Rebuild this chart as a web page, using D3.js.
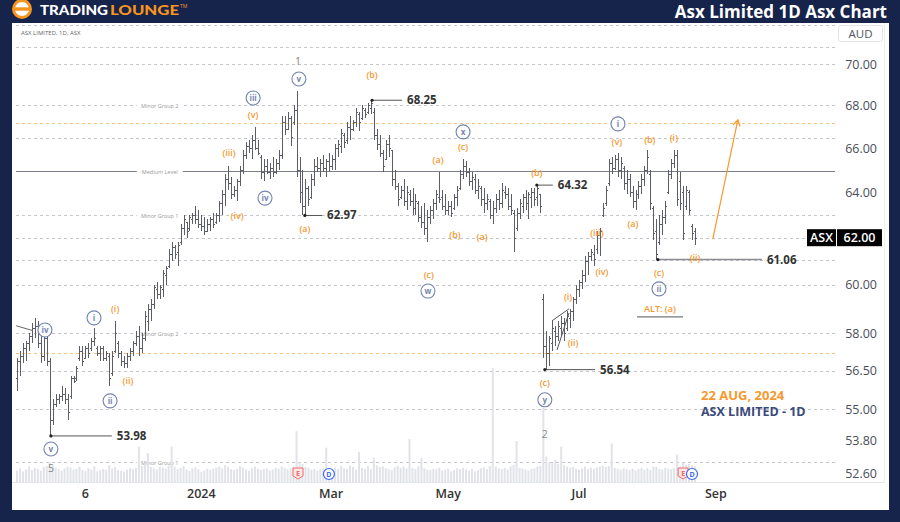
<!DOCTYPE html>
<html>
<head>
<meta charset="utf-8">
<script src="https://cdn.jsdelivr.net/npm/d3@7"></script>
<style>
  body { margin: 0; background: #16234b; }
  svg { display: block; font-family: "Open Sans", sans-serif; }
</style>
</head>
<body>
<div class="chart"></div>
<script>
//ASX Limited daily bars (late Sep 2023 -> 22 Aug 2024)
const opens = [
  56.2,56.9,57.1,57.4,57.6,57.9,58.2,58.3,57.6,57.1,
  57.8,56.9,54.6,55.2,55.4,55.5,55.6,55.4,55.5,56.2,
  56.2,57.0,57.3,57.0,57.4,57.4,57.7,57.4,57.2,57.4,
  57.0,57.1,56.4,57.3,57.6,57.2,56.9,56.8,57.1,57.3,
  57.6,57.9,57.4,57.8,58.5,59.0,59.2,59.8,59.6,59.8,
  60.4,60.8,61.3,61.6,61.4,61.8,62.4,62.7,62.4,62.8,
  63.0,62.8,62.6,62.5,62.3,62.6,62.8,62.7,63.0,63.5,
  63.9,64.6,64.4,63.9,64.1,64.5,65.0,65.7,66.1,66.0,
  66.4,66.0,65.6,64.9,65.2,64.9,65.1,64.9,65.3,65.7,
  67.2,66.9,67.4,67.2,67.8,65.0,64.0,63.4,64.2,63.8,
  64.6,65.2,65.1,65.3,65.1,65.4,65.2,65.5,66.0,66.1,
  66.6,66.4,67.0,66.9,67.2,67.6,67.4,67.8,67.7,67.9,
  67.7,66.6,66.2,65.8,65.5,66.2,65.9,64.6,64.3,63.8,
  64.1,63.6,63.9,63.6,63.3,63.5,62.9,62.7,62.4,62.9,
  63.2,63.5,63.8,63.8,63.4,63.2,63.4,63.3,63.8,64.2,
  64.8,65.2,64.9,64.5,64.6,64.1,64.2,63.7,63.5,63.6,
  63.0,63.3,63.7,63.5,64.0,63.9,63.4,63.1,62.4,63.1,
  63.4,63.8,63.5,63.8,64.0,63.8,63.9,59.4,57.5,57.2,
  57.6,58.1,57.9,58.2,58.4,58.2,58.6,58.9,59.4,59.8,
  60.1,60.4,61.0,61.2,61.3,61.5,62.1,63.0,63.5,64.4,
  65.3,65.1,65.5,65.0,65.1,64.4,64.6,64.0,63.6,63.9,
  64.3,64.6,65.0,64.8,63.3,62.3,61.8,62.6,62.9,64.0,
  64.8,65.3,65.7,64.5,64.0,63.4,64.0,62.5,62.3
];
const highs = [
  57.0,57.3,57.6,57.7,58.0,58.4,58.6,58.5,58.1,58.2,
  57.9,57.0,55.4,55.6,55.6,55.9,55.8,55.6,56.3,56.3,
  56.7,57.5,57.5,57.5,57.6,57.8,58.2,57.5,57.5,57.5,
  57.3,57.2,57.3,58.5,57.7,57.3,57.1,57.2,57.4,57.7,
  58.1,58.3,58.0,58.9,59.2,59.4,60.0,60.1,60.0,60.6,
  60.8,61.5,61.8,61.7,61.8,62.6,63.0,62.7,63.0,63.1,
  63.4,63.2,63.0,62.9,62.8,62.9,63.1,63.1,63.6,64.1,
  64.8,65.2,64.7,64.3,64.6,65.2,65.9,66.3,66.4,66.6,
  67.0,66.4,65.7,65.5,65.5,65.3,65.6,65.5,65.9,67.5,
  67.5,67.7,67.5,68.0,68.7,65.6,65.0,64.6,64.3,64.8,
  65.5,65.6,65.5,65.7,65.5,65.8,65.7,66.2,66.4,66.9,
  66.7,67.2,67.5,67.3,67.9,67.7,68.0,67.9,68.1,68.25,
  67.9,66.9,66.6,65.9,66.4,66.6,65.9,65.0,64.4,64.3,
  64.6,64.3,64.1,64.2,63.9,63.6,63.4,63.5,63.2,63.4,
  63.7,64.1,64.9,64.1,63.9,63.6,63.6,63.9,64.3,65.0,
  65.5,65.4,65.1,64.9,64.8,64.6,64.3,64.2,63.9,63.7,
  63.6,63.9,64.1,64.4,64.3,64.2,63.9,63.2,63.3,63.7,
  63.9,64.1,64.0,64.2,64.2,64.32,63.9,59.6,58.1,57.9,
  58.5,58.3,58.5,58.7,58.6,58.9,59.0,59.5,60.0,60.2,
  60.6,61.2,61.4,61.5,61.7,62.3,62.4,63.5,64.3,65.5,
  65.6,65.7,65.8,65.6,65.2,65.0,64.8,64.3,64.1,64.5,
  64.8,65.2,65.9,65.0,63.4,62.8,63.0,63.2,63.6,65.0,
  65.5,65.9,65.9,64.9,64.3,64.3,64.1,62.6,62.4
];
const lows = [
  55.7,56.3,56.8,56.9,57.3,57.6,57.8,57.4,56.8,56.9,
  56.7,53.98,54.4,55.1,55.2,55.3,55.2,54.6,55.4,56.0,
  56.1,56.9,56.7,57.0,57.0,57.3,57.5,57.1,56.9,56.9,
  56.9,55.9,56.3,57.2,57.0,56.7,56.6,56.6,56.9,57.1,
  57.5,57.1,57.2,57.7,58.1,58.5,59.0,59.4,59.4,59.5,
  60.0,60.7,61.0,61.1,60.8,61.7,62.1,62.0,62.3,62.6,
  62.6,62.4,62.3,62.1,62.3,62.3,62.4,62.6,62.7,63.0,
  63.4,64.1,63.7,63.8,63.6,64.3,64.8,65.5,65.8,65.5,
  65.9,65.7,64.6,64.5,64.8,64.6,64.7,64.8,65.0,65.5,
  66.6,66.9,66.1,67.1,64.7,63.5,63.0,62.97,63.4,63.7,
  64.3,64.9,64.7,64.9,64.7,64.9,65.0,65.0,65.6,65.8,
  66.0,66.2,66.4,66.8,67.0,66.8,67.3,67.4,67.6,67.6,
  66.4,65.9,65.6,64.9,65.5,65.6,64.3,64.1,63.4,63.7,
  63.4,63.2,63.4,63.0,63.0,62.7,62.4,62.1,61.8,62.6,
  62.8,63.2,63.5,63.2,63.0,63.0,62.9,63.2,63.4,64.1,
  64.6,64.7,64.3,64.1,63.9,63.7,63.4,63.1,63.2,62.8,
  62.6,63.1,63.2,63.3,63.7,63.2,63.0,61.4,62.3,62.8,
  63.1,63.2,62.8,63.3,63.4,63.4,63.1,57.0,56.54,56.7,
  57.3,57.5,57.7,57.9,57.7,58.1,58.2,58.5,59.2,59.5,
  59.8,60.1,60.4,61.0,60.8,61.3,61.2,62.9,63.4,64.3,
  64.8,65.0,64.7,64.6,64.1,63.9,63.8,63.3,63.2,63.7,
  63.9,64.3,64.8,63.2,61.9,61.06,61.7,62.1,62.6,63.9,
  64.6,65.1,63.4,63.2,61.9,63.2,63.0,61.9,61.7
];
const closes = [
  56.9,57.1,57.4,57.6,57.9,58.2,58.3,57.6,57.1,57.8,
  56.9,54.6,55.2,55.4,55.5,55.6,55.4,54.9,56.2,56.1,
  56.6,57.3,56.9,57.4,57.2,57.7,57.8,57.2,57.4,57.0,
  57.2,56.2,57.1,58.0,57.2,56.9,56.8,57.1,57.3,57.6,
  57.9,57.4,57.8,58.7,59.0,59.2,59.9,59.6,59.9,60.5,
  60.7,61.3,61.6,61.3,61.7,62.4,62.8,62.3,62.9,63.0,
  62.8,62.6,62.5,62.3,62.6,62.8,62.6,63.0,63.5,63.9,
  64.6,64.4,63.9,64.1,64.5,65.0,65.7,66.1,66.0,66.4,
  66.0,65.8,64.9,65.2,64.9,65.1,64.9,65.3,65.7,67.2,
  66.9,67.4,66.5,67.8,65.0,64.0,63.4,64.2,63.7,64.6,
  65.2,65.1,65.3,65.1,65.4,65.2,65.5,66.0,66.2,66.7,
  66.3,67.0,66.9,67.2,67.7,67.2,67.9,67.6,68.0,68.1,
  66.6,66.2,65.8,65.2,66.2,66.0,64.6,64.3,63.7,64.1,
  63.6,64.0,63.6,63.3,63.6,62.9,62.7,62.4,62.9,63.2,
  63.5,63.9,63.7,63.4,63.2,63.4,63.1,63.8,64.1,64.8,
  65.2,64.9,64.5,64.7,64.1,64.3,63.7,63.5,63.7,63.0,
  63.3,63.7,63.5,64.1,63.9,63.4,63.2,62.0,63.1,63.5,
  63.8,63.5,63.9,64.0,63.7,64.2,63.4,57.5,57.2,57.8,
  58.2,57.9,58.3,58.4,58.0,58.7,58.9,59.4,59.8,60.1,
  60.4,61.0,61.2,61.4,61.1,62.1,62.3,63.3,64.1,65.3,
  65.1,65.5,65.0,65.3,64.4,64.6,64.0,63.6,63.9,64.3,
  64.6,65.0,65.6,63.5,62.2,61.3,62.6,62.9,63.4,64.8,
  65.3,65.7,63.7,63.5,62.2,64.1,63.2,62.2,62.0
];
//volume in thousands of shares
const volumes = [
  520,610,480,560,700,540,630,590,510,680,
  720,900,760,640,580,520,610,700,650,560,
  600,680,540,500,620,560,710,480,530,590,
  550,760,610,680,540,500,470,560,620,580,
  640,1600,720,820,1300,680,620,560,700,650,
  610,740,1600,690,580,640,720,560,500,610,
  660,580,470,520,590,540,610,650,700,620,
  760,690,580,540,600,720,650,570,510,620,
  690,600,540,580,610,520,560,640,600,700,
  650,580,620,700,2300,900,820,680,640,560,
  600,520,580,620,1550,600,540,660,590,720,
  620,580,740,680,560,1350,640,600,720,580,
  1100,760,680,700,620,580,540,660,720,640,
  700,620,1950,640,580,700,1100,620,560,540,
  600,580,640,520,560,600,480,540,620,580,
  640,560,520,600,480,540,620,660,580,720,
  5150,700,620,580,640,560,700,760,1850,640,
  600,560,520,580,620,700,720,3350,1150,900,
  850,1000,820,1600,760,700,640,680,600,560,
  620,700,580,640,600,660,700,740,680,720,
  1750,640,600,560,620,580,540,600,520,580,
  640,560,620,540,700,680,600,560,640,600,
  580,620,1250,700,860,780,820,760,700
];

//right hand price axis (log) and the last price tag
const priceTicks = [70, 68, 66, 64, 60, 58, 56.5, 55, 53.8, 52.6];
const lastPrice = 62.00;

//bottom date labels, placed by bar index
const dateLabels = ["6", "2024", "Mar", "May", "Jul", "Sep"];
const dateIdx = [23, 62, 105.6, 145, 189, 235];

//horizontal levels drawn across the chart
const levelPrices = [71.93, 70.85, 70.0, 68.0, 67.17, 66.47, 64.95, 62.97, 62.0, 61.06, 60.0, 58.0, 57.2, 56.5, 55.0, 53.0];
const levelNames = ["", "", "", "Minor Group 2", "", "", "Medium Level", "Minor Group 1", "", "", "", "Minor Group 2", "", "", "", "Minor Group 1"];
const levelKinds = ["grey", "grey", "grey", "grey", "orange", "grey", "solid", "grey", "grey", "grey", "grey", "grey", "orange", "grey", "grey", "grey"];

//wave labels: [text, bar index, price]
const circleLabels = [
  ["iv", 9.4, 58.13], ["v", 11.4, 53.49], ["i", 25.9, 58.62], ["ii", 31.3, 55.32],
  ["iii", 79.4, 68.36], ["iv", 83.4, 63.74], ["v", 94.8, 69.27], ["w", 138.2, 59.73],
  ["x", 150, 66.76], ["y", 177.5, 55.36], ["i", 202.1, 67.13], ["ii", 215.9, 59.82]
];
const orangeLabels = [
  ["(i)", 33, 58.99], ["(ii)", 37.3, 56.1], ["(iii)", 71.3, 65.78], ["(iv)", 74, 62.95],
  ["(v)", 79.4, 67.55], ["(a)", 96.8, 62.38], ["(b)", 119.4, 69.47], ["(a)", 141.6, 65.46],
  ["(b)", 147.3, 62.12], ["(a)", 156.4, 62.04], ["(c)", 150, 66.06], ["(c)", 138.5, 60.41],
  ["(b)", 174.8, 64.88], ["(c)", 177.5, 56.03], ["(i)", 185.3, 59.49], ["(ii)", 187, 57.6],
  ["(iii)", 195, 62.21], ["(iv)", 196.7, 60.54], ["(v)", 201.7, 66.3], ["(a)", 207.1, 62.6],
  ["(b)", 212.8, 66.39], ["(c)", 215.9, 60.5], ["(i)", 220.9, 66.48], ["(ii)", 228, 61.13],
  ["ALT: (a)", 216.2, 58.99]
];
const degreeLabels = [["1", 94.5, 70.15], ["5", 11.4, 52.79], ["2", 177.5, 54.05]];

//price callouts: [price, from bar index, to bar index]
const callouts = [
  [53.98, 11.4, 31.9], [62.97, 96.8, 102.6], [68.25, 119.4, 129.5],
  [64.32, 174.8, 180.2], [56.54, 177.5, 194.4], [61.06, 215.5, 250.5]
];

//other drawings, as [bar index, price] points
const altLine = [[208.5, 58.66], [224, 58.66]];
const trendStub = [[-0.3, 58.3], [5.4, 58.1]];
const wedgeLines = [
  [[179.9, 58.5], [185.6, 58.99]],
  [[181.6, 57.32], [185.6, 58.82]]
];
const forecast = [[234, 61.95], [242.4, 67.32]];

//earnings / dividend flags on the volume pane
const eventIdx = [94.5, 104.9, 224, 227];
const eventType = ["E", "D", "E", "D"];


let chart = {};
const ORANGE = "#f7982f";
const WAVE = "#7484b0";

init();

function init() {
  chart.bars = highs.map((h, i) => ({
    i: i, o: opens[i], h: h, l: lows[i], c: closes[i], v: volumes[i]
  }));

  setScales();
  appendFrame();
  appendLevels();
  appendVolume();
  appendBars();
  appendDrawings();
  appendLabels();
  appendAxes();
}

function setScales() {
  chart.x = d3.scaleLinear().domain([0, 228]).range([17, 695]);
  chart.y = d3.scaleLog().domain([52.6, 70]).range([473, 64]);
  chart.yVol = d3.scaleLinear().domain([0, 5200]).range([482, 367]);
  chart.left = 16;
  chart.right = 835;
}

function appendFrame() {
  chart.svg = d3.select(".chart").append("svg")
    .attr("width", 900)
    .attr("height", 522);

  chart.svg.append("rect").attr("width", 900).attr("height", 522).attr("fill", "#16234b");

  //header: logo + title
  let logo = chart.svg.append("g");
  logo.append("circle").attr("cx", 22).attr("cy", 9).attr("r", 10).attr("fill", "#f7941d");
  logo.append("circle").attr("cx", 22).attr("cy", 9).attr("r", 7).attr("fill", "#fff");
  logo.append("rect").attr("x", 13).attr("y", 7.3).attr("width", 18).attr("height", 3.4).attr("fill", "#f7941d");
  logo.append("text").attr("x", 40).attr("y", 15)
    .attr("font-family", "Lato").attr("font-weight", 900).attr("font-size", 13.5)
    .attr("textLength", 68).attr("lengthAdjust", "spacingAndGlyphs")
    .attr("fill", "#fff").text("TRADING");
  logo.append("text").attr("x", 110).attr("y", 15)
    .attr("font-family", "Lato").attr("font-weight", 900).attr("font-size", 13.5)
    .attr("textLength", 69).attr("lengthAdjust", "spacingAndGlyphs")
    .attr("fill", "#f7941d").text("LOUNGE");
  logo.append("text").attr("x", 180).attr("y", 8).attr("font-size", 5).attr("fill", "#f7941d").text("TM");

  chart.svg.append("text")
    .attr("x", 887).attr("y", 17.5)
    .attr("text-anchor", "end")
    .attr("font-weight", 700).attr("font-size", 17)
    .attr("fill", "#fff")
    .text("Asx Limited 1D Asx Chart");

  //white chart panel
  chart.svg.append("rect")
    .attr("x", 12).attr("y", 23).attr("width", 877).attr("height", 487)
    .attr("fill", "#fff");

  chart.svg.append("line")
    .attr("x1", 12).attr("x2", 885).attr("y1", 482.5).attr("y2", 482.5)
    .attr("stroke", "#e3e5ea");
  chart.svg.append("line")
    .attr("x1", 884.5).attr("x2", 884.5).attr("y1", 23).attr("y2", 483)
    .attr("stroke", "#eceef2");

  chart.plot = chart.svg.append("g").attr("class", "chart-g");

  chart.svg.append("text")
    .attr("x", 21).attr("y", 35)
    .attr("font-size", 6).attr("fill", "#666")
    .text("ASX LIMITED, 1D, ASX");
}

function appendLevels() {
  let g = chart.plot.append("g").attr("class", "levels");

  levelPrices.forEach((p, k) => {
    let yy = Math.round(chart.y(p)) + 0.5;
    let kind = levelKinds[k];
    g.append("line")
      .attr("x1", chart.left).attr("x2", chart.right)
      .attr("y1", yy).attr("y2", yy)
      .attr("stroke", kind == "orange" ? "#f8c27e" : (kind == "solid" ? "#7d7f86" : "#c4c6cc"))
      .attr("stroke-width", kind == "solid" ? 1.2 : 1)
      .attr("stroke-dasharray", kind == "solid" ? null : "3,3");

    if (levelNames[k] != "") {
      let cx = chart.x(48);
      g.append("rect")
        .attr("x", cx - 23).attr("y", yy - 4).attr("width", 46).attr("height", 8)
        .attr("fill", "#fff");
      g.append("text")
        .attr("x", cx).attr("y", yy + 2)
        .attr("text-anchor", "middle")
        .attr("font-size", 5.5).attr("fill", "#999")
        .text(levelNames[k]);
    }
  });
}

function appendVolume() {
  chart.plot.append("g").selectAll("rect.vol")
    .data(chart.bars)
    .enter().append("rect")
    .attr("class", "vol")
    .attr("x", d => chart.x(d.i) - 1)
    .attr("width", 2)
    .attr("y", d => chart.yVol(d.v))
    .attr("height", d => 482 - chart.yVol(d.v))
    .attr("fill", "#e1e3e8");
}

function appendBars() {
  let g = chart.plot.append("g").attr("class", "ohlc")
    .attr("stroke", "#5b5e66").attr("stroke-width", 1)
    .attr("shape-rendering", "crispEdges");

  let px = d => Math.round(chart.x(d.i)) + 0.5;

  g.selectAll("line.hl").data(chart.bars).enter().append("line")
    .attr("x1", px).attr("x2", px)
    .attr("y1", d => chart.y(d.h)).attr("y2", d => chart.y(d.l));

  g.selectAll("line.op").data(chart.bars).enter().append("line")
    .attr("x1", d => px(d) - 1.5).attr("x2", px)
    .attr("y1", d => Math.round(chart.y(d.o)) + 0.5).attr("y2", d => Math.round(chart.y(d.o)) + 0.5);

  g.selectAll("line.cl").data(chart.bars).enter().append("line")
    .attr("x1", px).attr("x2", d => px(d) + 1.5)
    .attr("y1", d => Math.round(chart.y(d.c)) + 0.5).attr("y2", d => Math.round(chart.y(d.c)) + 0.5);
}

function pt(p) {
  return [chart.x(p[0]), chart.y(p[1])];
}

function appendDrawings() {
  let g = chart.plot.append("g").attr("class", "drawings");
  let line = d3.line().x(d => chart.x(d[0])).y(d => chart.y(d[1]));

  g.append("path").attr("d", line(trendStub)).attr("stroke", "#666").attr("fill", "none");
  wedgeLines.forEach(w => {
    g.append("path").attr("d", line(w)).attr("stroke", "#555").attr("stroke-width", 1).attr("fill", "none");
  });
  g.append("path").attr("d", line(altLine)).attr("stroke", "#777").attr("stroke-width", 1.3).attr("fill", "none");

  //price callouts
  callouts.forEach(c => {
    let x0 = chart.x(c[1]), x1 = chart.x(c[2]), yy = chart.y(c[0]);
    let last = c[0] == 61.06;
    g.append("line")
      .attr("x1", x0).attr("x2", x1).attr("y1", yy).attr("y2", yy)
      .attr("stroke", last ? "#8a8c92" : "#555")
      .attr("stroke-width", last ? 1.5 : 1);
    g.append("circle").attr("cx", x0).attr("cy", yy).attr("r", 1.6).attr("fill", "#222");
    g.append("text")
      .attr("x", x1 + 5).attr("y", yy + 4)
      .attr("font-size", 11.5).attr("font-weight", 700).attr("fill", "#333")
      .text(c[0].toFixed(2));
  });

  //forecast arrow
  let a = pt(forecast[0]), b = pt(forecast[1]);
  g.append("line")
    .attr("x1", a[0]).attr("y1", a[1]).attr("x2", b[0]).attr("y2", b[1])
    .attr("stroke", ORANGE).attr("stroke-width", 1.2);
  let ang = Math.atan2(b[1] - a[1], b[0] - a[0]);
  let head = [ang + 2.6, ang - 2.6].map(t => [b[0] + 7 * Math.cos(t), b[1] + 7 * Math.sin(t)]);
  g.append("path")
    .attr("d", `M${head[0]}L${b[0]},${b[1]}L${head[1]}`)
    .attr("stroke", ORANGE).attr("stroke-width", 1.2).attr("fill", "none");

  //E / D flags
  eventIdx.forEach((ix, k) => {
    let ex = chart.x(ix), ey = 474;
    if (eventType[k] == "E") {
      g.append("path")
        .attr("d", `M${ex - 5},${ey - 6}h10v8l-5,3l-5,-3z`)
        .attr("fill", "#fde8e8").attr("stroke", "#f06767").attr("stroke-width", 1);
      g.append("text").attr("x", ex).attr("y", ey + 2).attr("text-anchor", "middle")
        .attr("font-size", 7).attr("font-weight", 700).attr("fill", "#f06767").text("E");
    } else {
      g.append("circle").attr("cx", ex).attr("cy", ey).attr("r", 5.5)
        .attr("fill", "#fff").attr("stroke", "#3d6af5").attr("stroke-width", 1.2);
      g.append("text").attr("x", ex).attr("y", ey + 2.5).attr("text-anchor", "middle")
        .attr("font-size", 7).attr("font-weight", 700).attr("fill", "#3d6af5").text("D");
    }
  });
}

function appendLabels() {
  let g = chart.plot.append("g").attr("class", "waves");

  let circ = g.selectAll("g.circ").data(circleLabels).enter().append("g")
    .attr("transform", d => `translate(${chart.x(d[1])},${chart.y(d[2])})`);
  circ.append("circle").attr("r", 7).attr("fill", "#fff").attr("stroke", WAVE).attr("stroke-width", 1.1);
  circ.append("text")
    .attr("y", 3).attr("text-anchor", "middle")
    .attr("font-size", 8).attr("font-weight", 700).attr("fill", WAVE)
    .text(d => d[0]);

  g.selectAll("text.orange").data(orangeLabels).enter().append("text")
    .attr("x", d => chart.x(d[1])).attr("y", d => chart.y(d[2]) + 3)
    .attr("text-anchor", "middle")
    .attr("font-size", 9).attr("font-weight", 600).attr("fill", ORANGE)
    .text(d => d[0]);

  g.selectAll("text.deg").data(degreeLabels).enter().append("text")
    .attr("x", d => chart.x(d[1])).attr("y", d => chart.y(d[2]) + 4)
    .attr("text-anchor", "middle")
    .attr("font-size", 10.5).attr("fill", "#888")
    .text(d => d[0]);

  g.append("text").attr("x", 701).attr("y", 400)
    .attr("font-size", 13).attr("font-weight", 700).attr("fill", ORANGE)
    .text("22 AUG, 2024");
  g.append("text").attr("x", 701).attr("y", 416)
    .attr("font-size", 12.5).attr("font-weight", 700).attr("fill", "#3b4a7a")
    .text("ASX LIMITED - 1D");
}

function appendAxes() {
  let g = chart.svg.append("g").attr("class", "axes");

  g.selectAll("text.pt").data(priceTicks).enter().append("text")
    .attr("x", 877).attr("y", d => chart.y(d) + 4.5)
    .attr("text-anchor", "end")
    .attr("font-size", 12.5).attr("fill", "#4a4e59")
    .text(d => d.toFixed(2));

  //last price tag
  let ly = chart.y(lastPrice);
  g.append("rect").attr("x", 807).attr("y", ly - 8.5).attr("width", 29).attr("height", 17).attr("fill", "#000");
  g.append("rect").attr("x", 837).attr("y", ly - 8.5).attr("width", 45).attr("height", 17).attr("fill", "#000");
  g.append("text").attr("x", 821.5).attr("y", ly + 4.5).attr("text-anchor", "middle")
    .attr("font-size", 12.5).attr("font-weight", 600).attr("fill", "#fff").text("ASX");
  g.append("text").attr("x", 859.5).attr("y", ly + 4.5).attr("text-anchor", "middle")
    .attr("font-size", 12.5).attr("font-weight", 600).attr("fill", "#fff").text(lastPrice.toFixed(2));

  //currency box
  g.append("rect").attr("x", 838.5).attr("y", 25.5).attr("width", 44).attr("height", 16).attr("rx", 2)
    .attr("fill", "#fff").attr("stroke", "#e3e5ea");
  g.append("text").attr("x", 860.5).attr("y", 38).attr("text-anchor", "middle")
    .attr("font-size", 11.5).attr("fill", "#50535e").text("AUD");

  //dates
  g.selectAll("text.dt").data(dateLabels).enter().append("text")
    .attr("x", (d, k) => chart.x(dateIdx[k])).attr("y", 498)
    .attr("text-anchor", "middle")
    .attr("font-size", 12.5).attr("font-weight", 600).attr("fill", "#333")
    .text(d => d);
}
</script>
</body>
</html>
